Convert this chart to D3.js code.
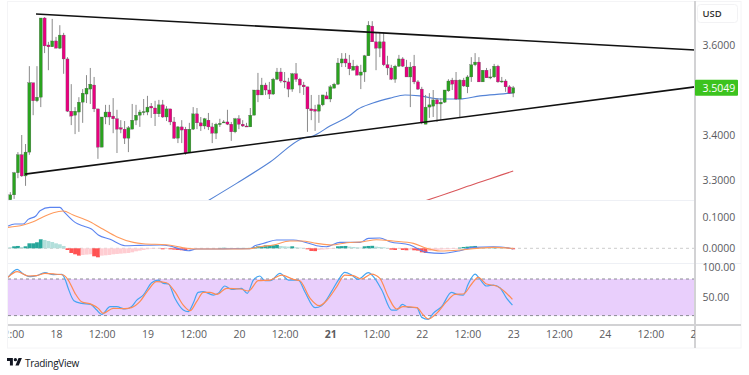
<!DOCTYPE html>
<html>
<head>
<meta charset="utf-8">
<script src="https://cdn.jsdelivr.net/npm/d3@7"></script>
<style>
    body { margin: 0; background: #fff; }
    text { font-family: "Open Sans", sans-serif; }
</style>
</head>
<body>
<div class="graph"></div>
<script>
// hourly candles
const openPrices = [3.256,3.267,3.316,3.356,3.309,3.362,3.516,3.476,3.484,3.660,3.600,3.596,3.609,3.593,3.622,3.569,3.453,3.444,3.451,3.473,3.491,3.502,3.511,3.458,3.373,3.440,3.451,3.442,3.436,3.416,3.413,3.393,3.413,3.433,3.444,3.451,3.451,3.464,3.460,3.447,3.467,3.440,3.458,3.429,3.393,3.418,3.413,3.362,3.413,3.447,3.427,3.420,3.433,3.418,3.404,3.423,3.427,3.429,3.424,3.407,3.436,3.424,3.420,3.418,3.444,3.500,3.489,3.511,3.500,3.491,3.524,3.540,3.520,3.518,3.502,3.536,3.524,3.511,3.507,3.458,3.457,3.453,3.467,3.487,3.480,3.504,3.513,3.560,3.569,3.560,3.544,3.553,3.533,3.540,3.576,3.642,3.607,3.593,3.607,3.556,3.549,3.524,3.553,3.569,3.551,3.529,3.553,3.518,3.502,3.424,3.462,3.464,3.478,3.469,3.473,3.498,3.522,3.522,3.480,3.522,3.507,3.529,3.556,3.562,3.518,3.544,3.527,3.529,3.553,3.519,3.520,3.507,3.493]
const closePrices = [3.267,3.316,3.356,3.309,3.362,3.516,3.476,3.484,3.660,3.598,3.596,3.609,3.593,3.622,3.569,3.453,3.442,3.453,3.473,3.493,3.504,3.513,3.458,3.373,3.440,3.451,3.440,3.436,3.413,3.413,3.393,3.416,3.433,3.444,3.451,3.452,3.462,3.460,3.447,3.467,3.440,3.458,3.429,3.393,3.418,3.411,3.360,3.413,3.447,3.427,3.420,3.436,3.418,3.404,3.424,3.426,3.429,3.424,3.407,3.436,3.424,3.420,3.418,3.444,3.500,3.489,3.511,3.500,3.491,3.524,3.540,3.520,3.518,3.502,3.536,3.524,3.511,3.507,3.458,3.454,3.453,3.467,3.489,3.480,3.507,3.513,3.560,3.569,3.560,3.547,3.553,3.533,3.540,3.576,3.644,3.607,3.593,3.607,3.556,3.549,3.524,3.553,3.569,3.553,3.529,3.551,3.518,3.502,3.427,3.462,3.467,3.478,3.469,3.473,3.500,3.520,3.513,3.480,3.522,3.509,3.529,3.556,3.562,3.518,3.544,3.527,3.529,3.553,3.518,3.520,3.507,3.493,3.5049]
const highPrices = [3.273,3.318,3.362,3.400,3.380,3.553,3.516,3.553,3.660,3.662,3.607,3.658,3.618,3.644,3.627,3.573,3.513,3.462,3.484,3.502,3.533,3.549,3.529,3.458,3.440,3.467,3.467,3.482,3.456,3.433,3.431,3.420,3.469,3.467,3.456,3.480,3.487,3.471,3.476,3.478,3.478,3.464,3.458,3.440,3.420,3.433,3.418,3.427,3.462,3.460,3.440,3.438,3.449,3.427,3.427,3.436,3.433,3.456,3.429,3.438,3.444,3.433,3.427,3.460,3.500,3.538,3.527,3.516,3.518,3.527,3.549,3.549,3.540,3.527,3.538,3.560,3.527,3.518,3.507,3.489,3.467,3.489,3.489,3.496,3.511,3.516,3.571,3.582,3.582,3.578,3.567,3.556,3.556,3.578,3.653,3.653,3.627,3.627,3.627,3.576,3.556,3.556,3.578,3.573,3.567,3.562,3.578,3.522,3.507,3.489,3.493,3.500,3.482,3.482,3.500,3.524,3.527,3.540,3.524,3.527,3.533,3.573,3.582,3.573,3.544,3.549,3.547,3.558,3.556,3.529,3.524,3.511,3.509]
const lowPrices = [3.256,3.258,3.304,3.307,3.287,3.356,3.444,3.473,3.462,3.582,3.544,3.596,3.593,3.591,3.536,3.451,3.422,3.402,3.407,3.427,3.471,3.469,3.451,3.347,3.373,3.424,3.422,3.404,3.360,3.404,3.380,3.362,3.413,3.422,3.418,3.444,3.444,3.438,3.420,3.440,3.438,3.431,3.422,3.391,3.382,3.382,3.356,3.362,3.411,3.413,3.409,3.413,3.411,3.382,3.391,3.418,3.427,3.422,3.387,3.404,3.413,3.418,3.418,3.418,3.444,3.473,3.489,3.489,3.480,3.489,3.522,3.516,3.504,3.484,3.496,3.518,3.493,3.489,3.407,3.433,3.409,3.427,3.464,3.480,3.473,3.504,3.511,3.551,3.551,3.533,3.544,3.533,3.502,3.518,3.576,3.607,3.544,3.573,3.553,3.533,3.522,3.516,3.551,3.551,3.529,3.462,3.513,3.500,3.424,3.424,3.438,3.440,3.429,3.433,3.471,3.496,3.500,3.478,3.440,3.507,3.493,3.518,3.553,3.518,3.518,3.527,3.524,3.527,3.516,3.516,3.496,3.493,3.484]

const maBars = [51.9,59.5,68.2,76.8,79.5,83.9,89.2,91,95.2,99.7,103.6,107.5,112.8,118,123.3,131.2,132]
const maPrices = [3.254,3.293,3.340,3.393,3.398,3.420,3.444,3.456,3.471,3.482,3.489,3.487,3.480,3.480,3.487,3.493,3.494]
const slowMaBars = [109,115,120,126,132]
const slowMaPrices = [3.254,3.271,3.286,3.303,3.320]

const upperTrendBars = [6.75,179.7]
const upperTrendPrices = [3.669,3.589]
const lowerTrendBars = [3.86,179.7]
const lowerTrendPrices = [3.313,3.507]

const macdHist = [.0032,.0063,.0074,.0042,.0063,.0158,.0158,.0190,.0285,.0264,.0232,.0200,.0158,.0127,.0074,-.0053,-.0148,-.0190,-.0232,-.0211,-.0200,-.0190,-.0253,-.0285,-.0232,-.0222,-.0211,-.0190,-.0179,-.0169,-.0158,-.0148,-.0127,-.0095,-.0074,-.0053,-.0032,-.0021,-.0011,-.0011,-.0032,-.0021,-.0032,-.0042,-.0053,-.0063,-.0074,-.0042,-.0021,-.0011,-.0011,-.0011,-.0011,-.0005,-.0005,.0011,.0016,.0013,.0011,-.0011,.0011,.0011,.0011,.0011,.0042,.0063,.0063,.0095,.0095,.0095,.0106,.0074,.0063,.0053,.0063,.0032,.0021,.0011,-.0032,-.0084,-.0090,-.0053,-.0042,-.0032,-.0021,-.0011,.0063,.0069,.0074,.0053,.0042,.0032,.0021,.0063,.0074,.0079,.0053,.0042,.0032,.0011,-.0042,-.0053,-.0021,-.0053,-.0063,-.0042,-.0063,-.0074,-.0127,-.0148,-.0084,-.0063,-.0053,-.0042,-.0032,-.0032,-.0021,-.0021,.0021,.0042,.0053,.0063,.0074,.0042,.0037,.0032,.0026,.0032,.0021,.0016,.0011,-.0021,-.0032]
const macdBars = [-.6,1.2,3.4,4.7,6.7,7.8,10.4,13,14.3,17,19.2,21.3,23.1,26.2,30.1,34,39.3,41.9,44.5,46.7,48.9,53.3,58.5,62.9,64.2,65.5,67.3,69.9,74.3,76.9,80.4,83,86.5,91.8,94,97,99.6,104.9,109.3,113.2,118,121.5,126.8,130.7,132]
const macdLine = [.0705,.0768,.0768,.0916,.1022,.1190,.1296,.1296,.1127,.0821,.0705,.0610,.0420,.0283,.0083,.0093,.0104,.0072,-.0023,-.0076,-.0023,-.0023,-.0012,-.0012,.0083,.0125,.0188,.0262,.0262,.0209,.0083,.0051,.0188,.0188,.0315,.0325,.0209,.0104,-.0128,-.0160,-.0076,.0030,.0051,.0019,-.0023]
const signalBars = [-.6,3.4,6,8.7,11.3,13.9,16.5,20.9,24.4,27.9,32.3,34.9,41,45.4,48.9,58.5,62.9,65.5,69,73.4,76.5,80.4,84.3,88.3,92.6,96.1,100.5,105.8,109.3,112.8,118,122.4,126.8,132]
const signalLine = [.0663,.0737,.0842,.1000,.1127,.1180,.1053,.0842,.0600,.0367,.0188,.0146,.0114,.0019,-.0023,-.0023,-.0012,.0051,.0104,.0230,.0230,.0157,.0104,.0177,.0209,.0272,.0230,.0157,-.0002,-.0086,-.0055,-.0002,.0030,-.0002]

const stochKBars = [-.6,1.8,3.4,5.2,6.9,9.1,11.3,13.5,14.3,15.2,16.7,18.7,21.1,22.7,24,26.2,27.9,30.1,31.8,33.2,34.9,37.1,38.8,40.2,41.5,43.2,45.4,46.7,48,49.3,50.7,53.3,54.6,56.3,58.1,60.7,62.2,63.8,65.5,66.8,68.2,70.8,73,75.6,77.3,80,81.7,84.3,86.1,87.8,89.6,91.3,94,95.3,97.5,100.1,101.4,102.9,104.5,106.7,108,109.7,111,113.2,115.8,117.2,118.9,120.2,122,123.3,125,126.8,128.5,130.3,131.8]
const stochK = [82.7,95.8,88.1,83.8,85.4,90.3,87.1,87.6,81,64.7,44.4,40.1,38.4,29.1,22,34.6,34.6,30.8,34.6,45.5,53.7,73.9,78.3,72.9,71.8,48.3,29.1,26.4,40.1,58.1,59.2,53.7,56.5,68.5,63,64.7,56.5,78.3,84.9,77.2,77.2,89.2,78.3,78.3,59.2,33,36.2,59.2,78.3,90.9,86.5,79.4,90.3,83.8,61.9,29.1,29.1,38.4,33.5,33,17.1,13.8,23.7,34.6,58.1,54.8,53.7,71.8,88.1,79.4,68.5,70.1,65.8,48.3,37.3]
const stochDBars = [-.6,1.8,4.7,6.9,9.1,11.7,13.9,15.2,17,18.7,21.3,23.1,24.4,27,30.1,31.8,34,36.2,38.4,41,43.2,45.4,47.2,48.9,50.7,52.4,54.2,56.8,60.3,62.5,65.1,68.2,71.2,74.3,76,78.7,81.1,83,85.7,87.8,90,92.2,94.8,97,99.2,101.4,103.1,106.7,108.4,109.7,111.9,114.5,116.7,118.9,121.1,122.8,125,127.6,129.8,131.8]
const stochD = [82.7,92,84.9,85.4,89.2,88.1,86.5,78.3,56.5,42.8,38.4,31.9,23.7,31.9,31.3,33,42.8,61.9,75.6,73.9,59.2,37.3,28,42.8,58.1,58.1,54.8,64.7,63.6,60.3,77.2,78.3,86.5,79.4,77.2,48.3,36.2,44.4,67.4,86.5,85.4,80,88.1,81,51,30.8,34.6,33,21,14.4,23.7,42.8,54.8,55.4,71.8,82.7,71.8,68.5,59.2,46.6]

const timeTickBars = [0,12,24,36,48,60,72,84,96,108,120,132,144,156,168,180]
const timeTickLabels = ['12:00','18','12:00','19','12:00','20','12:00','21','12:00','22','12:00','23','12:00','24','12:00','25']
const priceTicks = [3.3,3.4,3.6]
const macdTicks = [0,0.1]
const stochTicks = [50,100]
const stochBand = [20,80]
const lastPrice = 3.5049

const width = 749, height = 375
const chart = {left: 8, right: 695, top: 2, frameRight: 741, frameBottom: 348}
const paneBottom = {price: 200, macd: 263, stoch: 325}

const svg = d3.select('.graph').append('svg')
    .attr('width', width)
    .attr('height', height)
    .style('display', 'block')

const xScale = d3.scaleLinear().domain([0, 132]).range([10.3, 513.2])
const barStep = xScale(1) - xScale(0)
const yPrice = d3.scaleLinear().domain([3.3, 3.6]).range([180, 45])
const yMacd = d3.scaleLinear().domain([0, 0.1]).range([248.3, 216.7])
const yStoch = d3.scaleLinear().domain([0, 100]).range([327.8, 266.8])

const addClip = (id, x0, y0, y1) => svg.append('clipPath').attr('id', id)
    .append('rect')
        .attr('x', x0)
        .attr('y', y0)
        .attr('width', chart.right - x0)
        .attr('height', y1 - y0)
addClip('clip-price', chart.left, chart.top, paneBottom.price)
addClip('clip-macd', chart.left, paneBottom.price, paneBottom.macd)
addClip('clip-stoch', chart.left, paneBottom.macd, paneBottom.stoch)
addClip('clip-time', chart.left + .6, paneBottom.stoch, chart.frameBottom)

// frame and pane separators
svg.append('rect')
    .attr('x', 7.5).attr('y', 1.5)
    .attr('width', chart.frameRight - 7.5).attr('height', chart.frameBottom - 1.5)
    .attr('fill', 'none').attr('stroke', '#f4f4f6')
svg.append('line')
    .attr('x1', 8).attr('x2', chart.right)
    .attr('y1', paneBottom.price + .5).attr('y2', paneBottom.price + .5)
    .attr('stroke', '#eef0f5')
svg.append('line')
    .attr('x1', 8).attr('x2', chart.frameRight)
    .attr('y1', paneBottom.macd + .5).attr('y2', paneBottom.macd + .5)
    .attr('stroke', '#eef0f5')

// price pane
const pricePane = svg.append('g').attr('clip-path', 'url(#clip-price)')
const priceLine = (bars, prices) => d3.line()
    .x(d => xScale(bars[d]))
    .y(d => yPrice(prices[d]))
    .curve(d3.curveMonotoneX)(d3.range(bars.length))

pricePane.append('path')
    .attr('d', priceLine(maBars, maPrices))
    .attr('fill', 'none').attr('stroke', '#5483d6').attr('stroke-width', 1.1)
pricePane.append('path')
    .attr('d', priceLine(slowMaBars, slowMaPrices))
    .attr('fill', 'none').attr('stroke', '#d9565a').attr('stroke-width', 1.1)

const candles = d3.range(openPrices.length)
pricePane.selectAll('.wick')
    .data(candles)
    .enter().append('line')
        .attr('class', 'wick')
        .attr('x1', d => xScale(d))
        .attr('x2', d => xScale(d))
        .attr('y1', d => yPrice(highPrices[d]))
        .attr('y2', d => yPrice(lowPrices[d]))
        .attr('stroke', '#8a8a8a')
        .attr('stroke-width', 1)
pricePane.selectAll('.body')
    .data(candles)
    .enter().append('rect')
        .attr('class', 'body')
        .attr('x', d => xScale(d) - barStep * .4)
        .attr('y', d => yPrice(Math.max(openPrices[d], closePrices[d])))
        .attr('width', barStep * .8)
        .attr('height', d => Math.max(1, Math.abs(yPrice(openPrices[d]) - yPrice(closePrices[d]))))
        .attr('fill', d => closePrices[d] >= openPrices[d] ? '#2aa31f' : '#e8007f')
        .attr('stroke', '#555')
        .attr('stroke-width', .3)

const addTrend = (bars, prices) => svg.append('path')
    .attr('d', d3.line().x(d => xScale(bars[d])).y(d => yPrice(prices[d]))(d3.range(bars.length)))
    .attr('fill', 'none')
    .attr('stroke', '#111')
    .attr('stroke-width', 1.6)
addTrend(upperTrendBars, upperTrendPrices)
addTrend(lowerTrendBars, lowerTrendPrices)

// macd pane
const macdPane = svg.append('g').attr('clip-path', 'url(#clip-macd)')
macdPane.append('line')
    .attr('x1', chart.left).attr('x2', chart.right)
    .attr('y1', yMacd(0)).attr('y2', yMacd(0))
    .attr('stroke', '#ccc').attr('stroke-dasharray', '3 3')
const histColor = (v, i) => {
    const rising = i > 0 && v >= macdHist[i - 1]
    if (v >= 0) return rising ? '#26a69a' : '#b2dfdb'
    return rising ? '#ffcdd2' : '#ff5252'
}
macdPane.selectAll('.hist')
    .data(macdHist)
    .enter().append('rect')
        .attr('class', 'hist')
        .attr('x', (d, i) => xScale(i) - barStep / 2)
        .attr('y', d => Math.min(yMacd(d), yMacd(0)))
        .attr('width', barStep)
        .attr('height', d => Math.abs(yMacd(d) - yMacd(0)))
        .attr('fill', histColor)
const addLine = (pane, bars, values, yScale, color, w) => pane.append('path')
    .attr('d', d3.line().x(d => xScale(bars[d])).y(d => yScale(values[d]))
        .curve(d3.curveMonotoneX)(d3.range(bars.length)))
    .attr('fill', 'none')
    .attr('stroke', color)
    .attr('stroke-width', w)
addLine(macdPane, macdBars, macdLine, yMacd, '#5b84f0', 1.1)
addLine(macdPane, signalBars, signalLine, yMacd, '#ff9a5c', 1.1)

// stoch rsi pane
const stochPane = svg.append('g').attr('clip-path', 'url(#clip-stoch)')
stochPane.append('rect')
    .attr('x', chart.left)
    .attr('y', yStoch(stochBand[1]))
    .attr('width', chart.right - chart.left)
    .attr('height', yStoch(stochBand[0]) - yStoch(stochBand[1]))
    .attr('fill', '#e9cffc')
stochPane.selectAll('.band')
    .data(stochBand)
    .enter().append('line')
        .attr('class', 'band')
        .attr('x1', chart.left).attr('x2', chart.right)
        .attr('y1', d => yStoch(d)).attr('y2', d => yStoch(d))
        .attr('stroke', '#8a8a94').attr('stroke-dasharray', '3 3')
addLine(stochPane, stochKBars, stochK, yStoch, '#45a5f2', 1.2)
addLine(stochPane, stochDBars, stochD, yStoch, '#ff8b52', 1.2)

// thick separators between panes and axes
svg.append('line')
    .attr('x1', 8).attr('x2', chart.frameRight)
    .attr('y1', paneBottom.stoch).attr('y2', paneBottom.stoch)
    .attr('stroke', '#d2d2d4').attr('stroke-width', 2)
svg.append('line')
    .attr('x1', chart.right).attr('x2', chart.right)
    .attr('y1', 1).attr('y2', chart.frameBottom)
    .attr('stroke', '#d2d2d4').attr('stroke-width', 2)

// axes
const styleAxis = g => {
    g.select('.domain').remove()
    g.selectAll('text')
        .attr('fill', '#5b5b60')
        .style('font-size', '10.5px')
        .style('font-family', '"Open Sans", sans-serif')
}
const rightAxis = (scale, ticks, fmt) => d3.axisRight(scale)
    .tickValues(ticks).tickFormat(fmt).tickSize(0).tickPadding(0)
svg.append('g').attr('transform', 'translate(702.5, 0)')
    .call(rightAxis(yPrice, priceTicks, d3.format('.4f'))).call(styleAxis)
svg.append('g').attr('transform', 'translate(702.5, 0)')
    .call(rightAxis(yMacd, macdTicks, d3.format('.4f'))).call(styleAxis)
svg.append('g').attr('transform', 'translate(702.5, 0)')
    .call(rightAxis(yStoch, stochTicks, d3.format('.2f'))).call(styleAxis)

const timeAxis = d3.axisBottom(xScale)
    .tickValues(timeTickBars)
    .tickFormat(d => timeTickLabels[timeTickBars.indexOf(d)])
    .tickSize(0)
    .tickPadding(0)
svg.append('g').attr('clip-path', 'url(#clip-time)')
    .append('g').attr('transform', 'translate(0, 331)')
    .call(timeAxis).call(styleAxis)
    .call(g => g.selectAll('text').filter(d => d === 84).style('font-weight', 700))

// currency button and last price tag
svg.append('rect')
    .attr('x', 697.5).attr('y', 4.5)
    .attr('width', 40).attr('height', 18).attr('rx', 3)
    .attr('fill', '#fff').attr('stroke', '#f2f2f4')
svg.append('text')
    .attr('x', 712).attr('y', 13.5)
    .attr('text-anchor', 'middle').attr('dominant-baseline', 'central')
    .attr('fill', '#333').style('font-size', '9.5px').style('font-weight', 600)
    .text('USD')
svg.append('rect')
    .attr('x', 695).attr('y', yPrice(lastPrice) - 8)
    .attr('width', 43).attr('height', 16).attr('rx', 1)
    .attr('fill', '#3cc31e')
svg.append('text')
    .attr('x', 702.5).attr('y', yPrice(lastPrice))
    .attr('dominant-baseline', 'central')
    .attr('fill', '#fff').style('font-size', '10.5px')
    .text(d3.format('.4f')(lastPrice))

// footer logo
svg.append('path')
    .attr('transform', 'translate(7, 356.3) scale(.42)')
    .attr('d', 'M14 22H7V11H0V4h14v18zM28 22h-8l7.5-18h8L28 22z')
    .attr('fill', '#131722')
svg.append('circle')
    .attr('transform', 'translate(7, 356.3) scale(.42)')
    .attr('cx', 20).attr('cy', 8).attr('r', 4)
    .attr('fill', '#131722')
svg.append('text')
    .attr('x', 25).attr('y', 362.5)
    .attr('dominant-baseline', 'central')
    .attr('fill', '#131722').style('font-size', '10px').style('letter-spacing', '-.3px')
    .text('TradingView')
</script>
</body>
</html>
